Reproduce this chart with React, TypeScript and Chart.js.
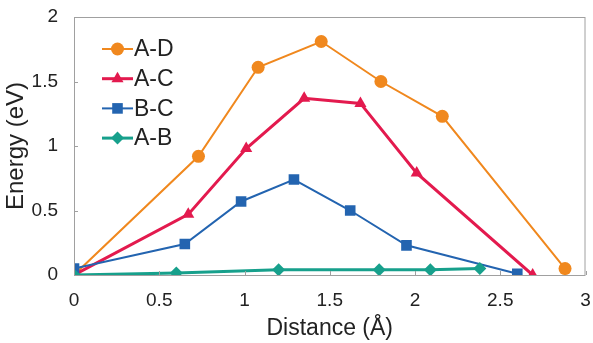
import React, { useEffect, useRef } from 'react';
import { Chart, registerables } from 'chart.js';
import { drawPoint } from 'chart.js/helpers';

Chart.register(...registerables);

const seriesNames = ['A-D', 'A-C', 'B-C', 'A-B'];
const adX = [0, 0.73, 1.08, 1.45, 1.8, 2.16, 2.88];
const adY = [0, 0.92, 1.61, 1.81, 1.5, 1.23, 0.05];
const acX = [0, 0.67, 1.01, 1.35, 1.68, 2.01, 2.69];
const acY = [0, 0.47, 0.98, 1.37, 1.33, 0.79, 0];
const bcX = [0, 0.65, 0.98, 1.29, 1.62, 1.95, 2.6];
const bcY = [0.05, 0.24, 0.57, 0.74, 0.5, 0.23, 0.01];
const abX = [0, 0.6, 1.2, 1.79, 2.09, 2.38];
const abY = [0, 0.015, 0.04, 0.04, 0.04, 0.05];
const xTitle = 'Distance (Å)';
const yTitle = 'Energy (eV)';

const colors = ['#F0881E', '#E31A4E', '#2364B0', '#17A08C'];
const styles = ['circle', 'triangle', 'rect', 'rectRot'];
const radii = [6.5, 7, 7.5, 6.5];
const widths = [2, 3, 2, 3];

const FONT = "'Liberation Sans', Arial, sans-serif";

const pts = (xs: number[], ys: number[]) => xs.map((x, i) => ({ x, y: ys[i] }));

const framePlugin = {
  id: 'frame',
  afterDraw(chart: any) {
    const { ctx, chartArea: a } = chart;
    ctx.save();
    ctx.strokeStyle = '#A0A0A0';
    ctx.lineWidth = 1;
    ctx.strokeRect(a.left + 0.5, a.top + 0.5, a.right - a.left - 1, a.bottom - a.top);
    const xs = chart.scales.x;
    const ys = chart.scales.y;
    ctx.beginPath();
    xs.ticks.forEach((t: any) => {
      const px = Math.round(xs.getPixelForValue(t.value)) + 0.5;
      ctx.moveTo(px, a.bottom);
      ctx.lineTo(px, a.bottom - 4);
    });
    ys.ticks.forEach((t: any) => {
      const py = Math.round(ys.getPixelForValue(t.value)) + 0.5;
      ctx.moveTo(a.left, py);
      ctx.lineTo(a.left + 4, py);
    });
    ctx.stroke();
    ctx.restore();
  },
};

const legendPlugin = {
  id: 'innerLegend',
  afterDraw(chart: any) {
    const { ctx, chartArea: a } = chart;
    ctx.save();
    seriesNames.forEach((name, i) => {
      const y = a.top + 32 + i * 29.7;
      const x0 = a.left + 28;
      const x1 = x0 + 31;
      ctx.strokeStyle = colors[i];
      ctx.lineWidth = widths[i];
      ctx.beginPath();
      ctx.moveTo(x0, y);
      ctx.lineTo(x1, y);
      ctx.stroke();
      ctx.fillStyle = colors[i];
      drawPoint(ctx, { pointStyle: styles[i], radius: radii[i], borderWidth: 0, rotation: 0 } as any, (x0 + x1) / 2, y);
      ctx.fillStyle = '#222';
      ctx.font = `23px ${FONT}`;
      ctx.textAlign = 'left';
      ctx.textBaseline = 'middle';
      ctx.fillText(name, x1 + 1, y + 1);
    });
    ctx.restore();
  },
};

const fmt = (v: any) => String(Number(v));

export default function App() {
  const ref = useRef<HTMLCanvasElement>(null);
  useEffect(() => {
    document.body.style.margin = '0';
    const all = [pts(adX, adY), pts(acX, acY), pts(bcX, bcY), pts(abX, abY)];
    const chart = new Chart(ref.current!, {
      type: 'scatter',
      data: {
        datasets: all.map((d, i) => ({
          label: seriesNames[i],
          data: d,
          showLine: true,
          borderColor: colors[i],
          backgroundColor: colors[i],
          borderWidth: widths[i],
          pointStyle: styles[i] as any,
          pointRadius: radii[i],
          pointBorderWidth: 0,
          order: 4 - i,
        })),
      },
      options: {
        animation: false,
        responsive: false,
        maintainAspectRatio: false,
        layout: { padding: { left: 0, right: 7, top: 17, bottom: 0 } },
        plugins: { legend: { display: false }, tooltip: { enabled: false } },
        scales: {
          x: {
            type: 'linear',
            min: 0,
            max: 3,
            ticks: { stepSize: 0.5, color: '#222', font: { family: FONT, size: 19 }, padding: 14, callback: fmt },
            grid: { display: false, drawTicks: false },
            border: { display: false },
            title: { display: true, text: xTitle, color: '#222', font: { family: FONT, size: 23 }, padding: { top: 0, bottom: 1 } },
            afterFit: (s: any) => { s.height = 68; s.paddingLeft = 0; s.paddingRight = 0; },
          },
          y: {
            type: 'linear',
            min: 0,
            max: 2,
            ticks: { stepSize: 0.5, color: '#222', font: { family: FONT, size: 19 }, padding: 16, callback: fmt },
            grid: { display: false, drawTicks: false },
            border: { display: false },
            title: { display: true, text: yTitle, color: '#222', font: { family: FONT, size: 24 }, padding: { top: 2, bottom: 0 } },
            afterFit: (s: any) => { s.width = 74; s.paddingTop = 0; s.paddingBottom = 0; },
          },
        },
      },
      plugins: [framePlugin, legendPlugin],
    });
    return () => chart.destroy();
  }, []);
  return (
    <div style={{ width: 593, height: 343 }}>
      <canvas ref={ref} width={593} height={343} style={{ width: 593, height: 343, display: 'block' }} />
    </div>
  );
}
